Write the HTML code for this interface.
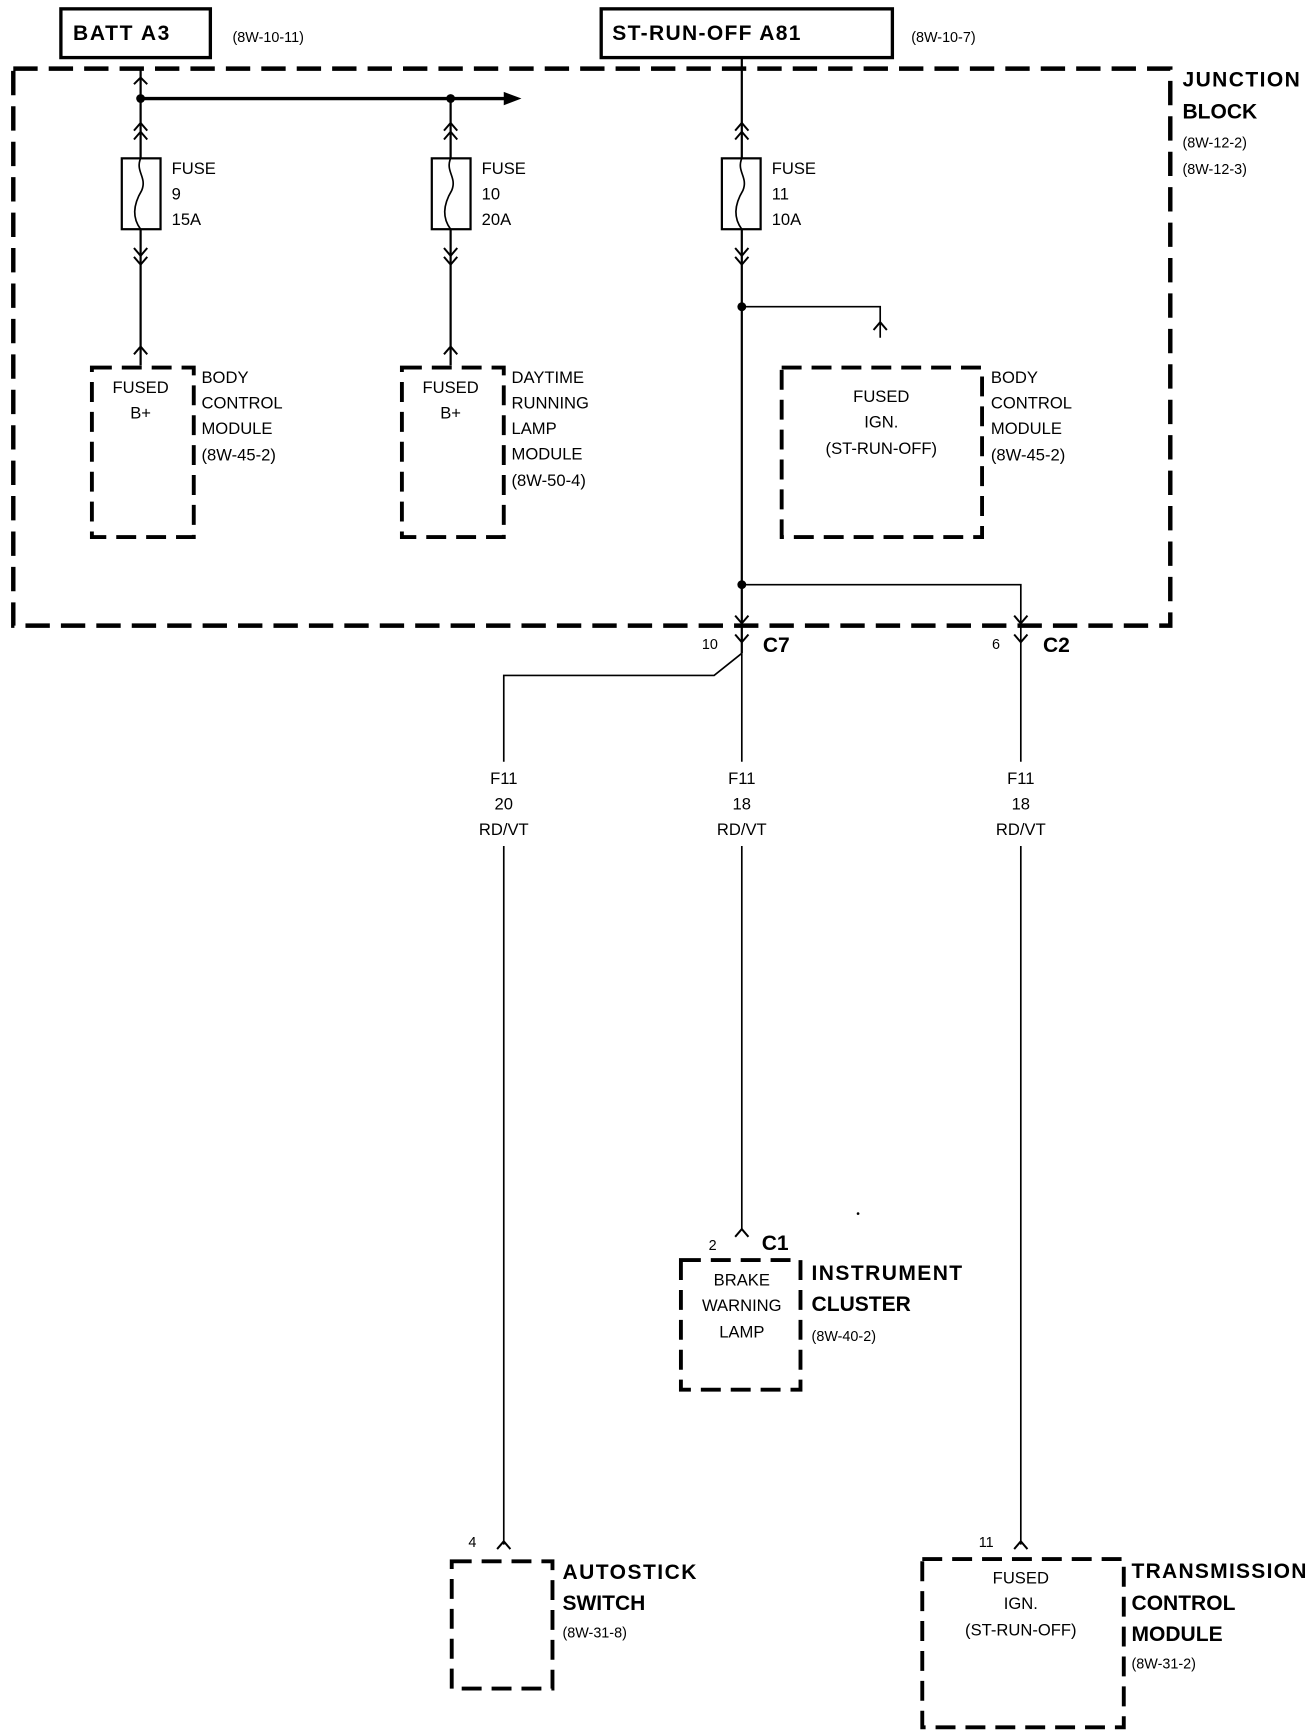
<!DOCTYPE html>
<html><head><meta charset="utf-8"><style>
html,body{margin:0;padding:0;background:#fff;}
svg{display:block;}
text{font-family:"Liberation Sans",sans-serif;fill:#000;}
.r{font-size:15px;}
.b{font-size:19px;font-weight:bold;}
.s{font-size:13px;}
</style></head><body>
<svg width="1312" height="1734" viewBox="0 0 1185 1566" preserveAspectRatio="none" xmlns="http://www.w3.org/2000/svg">
<g fill="none" stroke="#000">
<rect x="55" y="8" width="135" height="44" stroke-width="3"/>
<rect x="543" y="8" width="263" height="44" stroke-width="3"/>
<rect x="12" y="62" width="1045" height="503" stroke-width="4" stroke-dasharray="22 10"/>
<line x1="127" y1="62" x2="127" y2="330" stroke-width="2"/>
<line x1="127" y1="89" x2="458" y2="89" stroke-width="3"/>
<line x1="407" y1="89" x2="407" y2="330" stroke-width="2"/>
<line x1="670" y1="52" x2="670" y2="590" stroke-width="2"/>
<line x1="670" y1="590" x2="670" y2="688" stroke-width="1.5"/>
<line x1="670" y1="764" x2="670" y2="1110" stroke-width="1.5"/>
<polyline points="670,277 795,277 795,305" stroke-width="1.5"/>
<polyline points="670,528 922,528 922,688" stroke-width="1.5"/>
<line x1="922" y1="764" x2="922" y2="1395" stroke-width="1.5"/>
<polyline points="670,590 645,610 455,610 455,688" stroke-width="1.5"/>
<line x1="455" y1="764" x2="455" y2="1395" stroke-width="1.5"/>
<rect x="110" y="143" width="35" height="64" stroke-width="2" fill="#fff"/>
<rect x="390" y="143" width="35" height="64" stroke-width="2" fill="#fff"/>
<rect x="652" y="143" width="35" height="64" stroke-width="2" fill="#fff"/>
<path d="M127 143 C122 155,133 160,128 172 C122 182,118 195,127 207" stroke-width="1.5"/>
<path d="M407 143 C402 155,413 160,408 172 C402 182,398 195,407 207" stroke-width="1.5"/>
<path d="M670 143 C665 155,676 160,671 172 C665 182,661 195,670 207" stroke-width="1.5"/>
<g stroke-width="1.8">
<polyline points="121,76 127,70 133,76"/>
<polyline points="121,118 127,111 133,118"/><polyline points="121,126 127,119 133,126"/>
<polyline points="401,118 407,111 413,118"/><polyline points="401,126 407,119 413,126"/>
<polyline points="664,118 670,111 676,118"/><polyline points="664,126 670,119 676,126"/>
<polyline points="121,224 127,231 133,224"/><polyline points="121,232 127,239 133,232"/>
<polyline points="401,224 407,231 413,224"/><polyline points="401,232 407,239 413,232"/>
<polyline points="664,224 670,231 676,224"/><polyline points="664,232 670,239 676,232"/>
<polyline points="121,320 127,313 133,320"/>
<polyline points="401,320 407,313 413,320"/>
<polyline points="789,298 795,291 801,298"/>
<polyline points="664,556 670,563 676,556"/><polyline points="664,573 670,580 676,573"/>
<polyline points="916,556 922,563 928,556"/><polyline points="916,573 922,580 928,573"/>
<polyline points="664,1117 670,1110 676,1117"/>
<polyline points="449,1399 455,1392 461,1399"/>
<polyline points="916,1399 922,1392 928,1399"/>
</g>
<g stroke-width="3.5" stroke-dasharray="18 9">
<rect x="83" y="332" width="92" height="153"/>
<rect x="363" y="332" width="92" height="153"/>
<rect x="706" y="332" width="181" height="153"/>
<rect x="615" y="1138" width="108" height="117"/>
<rect x="408" y="1410" width="91" height="115"/>
<rect x="833" y="1408" width="182" height="152"/>
</g>
</g>
<polygon points="455,83 471,89 455,95" fill="#000"/>
<circle cx="127" cy="89" r="4"/><circle cx="407" cy="89" r="4"/>
<circle cx="670" cy="277" r="4"/><circle cx="670" cy="528" r="4"/>
<circle cx="775" cy="1096" r="1.2"/>
<text class="b" x="66" y="36" textLength="87">BATT A3</text>
<text class="s" x="210" y="38">(8W-10-11)</text>
<text class="b" x="553" y="36" textLength="170">ST-RUN-OFF A81</text>
<text class="s" x="823" y="38">(8W-10-7)</text>
<text class="b" x="1068" y="78" textLength="106">JUNCTION</text>
<text class="b" x="1068" y="107">BLOCK</text>
<text class="s" x="1068" y="133">(8W-12-2)</text>
<text class="s" x="1068" y="157">(8W-12-3)</text>
<g class="r">
<text x="155" y="157">FUSE</text><text x="155" y="180">9</text><text x="155" y="203">15A</text>
<text x="435" y="157">FUSE</text><text x="435" y="180">10</text><text x="435" y="203">20A</text>
<text x="697" y="157">FUSE</text><text x="697" y="180">11</text><text x="697" y="203">10A</text>
<text x="127" y="355" text-anchor="middle">FUSED</text><text x="127" y="378" text-anchor="middle">B+</text>
<text x="407" y="355" text-anchor="middle">FUSED</text><text x="407" y="378" text-anchor="middle">B+</text>
<text x="182" y="346">BODY</text><text x="182" y="369">CONTROL</text><text x="182" y="392">MODULE</text><text x="182" y="416">(8W-45-2)</text>
<text x="462" y="346">DAYTIME</text><text x="462" y="369">RUNNING</text><text x="462" y="392">LAMP</text><text x="462" y="415">MODULE</text><text x="462" y="439">(8W-50-4)</text>
<text x="796" y="363" text-anchor="middle">FUSED</text><text x="796" y="386" text-anchor="middle">IGN.</text><text x="796" y="410" text-anchor="middle">(ST-RUN-OFF)</text>
<text x="895" y="346">BODY</text><text x="895" y="369">CONTROL</text><text x="895" y="392">MODULE</text><text x="895" y="416">(8W-45-2)</text>
<text x="455" y="708" text-anchor="middle">F11</text><text x="455" y="731" text-anchor="middle">20</text><text x="455" y="754" text-anchor="middle">RD/VT</text>
<text x="670" y="708" text-anchor="middle">F11</text><text x="670" y="731" text-anchor="middle">18</text><text x="670" y="754" text-anchor="middle">RD/VT</text>
<text x="922" y="708" text-anchor="middle">F11</text><text x="922" y="731" text-anchor="middle">18</text><text x="922" y="754" text-anchor="middle">RD/VT</text>
<text x="670" y="1161" text-anchor="middle">BRAKE</text><text x="670" y="1184" text-anchor="middle">WARNING</text><text x="670" y="1208" text-anchor="middle">LAMP</text>
<text x="922" y="1430" text-anchor="middle">FUSED</text><text x="922" y="1453" text-anchor="middle">IGN.</text><text x="922" y="1477" text-anchor="middle">(ST-RUN-OFF)</text>
</g>
<g class="s">
<text x="634" y="586">10</text><text x="896" y="586">6</text>
<text x="640" y="1129">2</text><text x="423" y="1397">4</text><text x="884" y="1397">11</text>
<text x="733" y="1211">(8W-40-2)</text><text x="508" y="1479">(8W-31-8)</text><text x="1022" y="1507">(8W-31-2)</text>
</g>
<g class="b">
<text x="689" y="589">C7</text><text x="942" y="589">C2</text><text x="688" y="1129">C1</text>
<text x="733" y="1156" textLength="136">INSTRUMENT</text><text x="733" y="1184">CLUSTER</text>
<text x="508" y="1426" textLength="121">AUTOSTICK</text><text x="508" y="1454">SWITCH</text>
<text x="1022" y="1425" textLength="158">TRANSMISSION</text><text x="1022" y="1454">CONTROL</text><text x="1022" y="1482">MODULE</text>
</g>
</svg>
</body></html>
